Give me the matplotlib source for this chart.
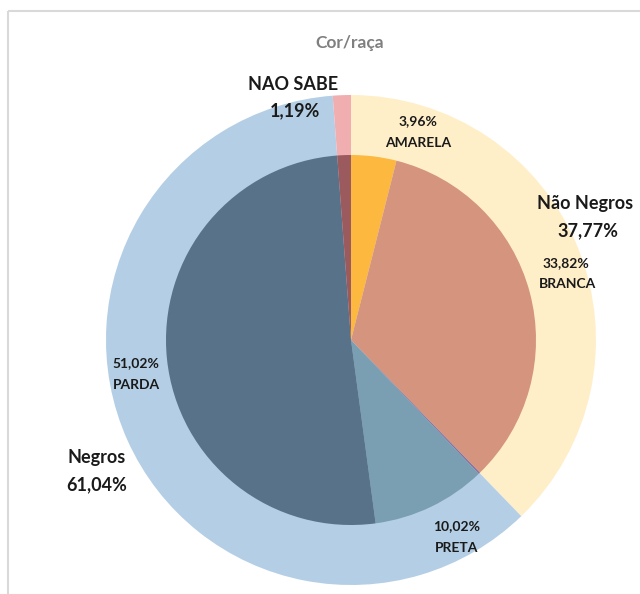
import matplotlib
matplotlib.use("Agg")
import matplotlib.pyplot as plt

# ---- data ----
outer_labels = ["Não Negros", "Negros", "NAO SABE"]
outer_values = [37.77, 61.04, 1.19]
inner_labels = ["AMARELA", "BRANCA", "INDÍGENA", "PRETA", "PARDA", "NAO SABE"]
inner_values = [3.96, 33.82, 0.15, 10.02, 51.02, 1.19]
title = "Cor/raça"

outer_colors = ["#FFEFC9", "#B4CFE5", "#F1AEB0"]
inner_colors = ["#FDB83F", "#D5947E", "#8A6FA0", "#7A9FB2", "#587389", "#9A5A5E"]

W, H = 640, 594
fig = plt.figure(figsize=(W / 100, H / 100), dpi=100)
ax = fig.add_axes([0, 0, 1, 1])

cx, cy = 351, H - 340

ax.pie(outer_values, colors=outer_colors, startangle=90, counterclock=False,
       radius=245, center=(cx, cy), frame=True,
       wedgeprops=dict(linewidth=0))
ax.pie(inner_values, colors=inner_colors, startangle=90, counterclock=False,
       radius=185, center=(cx, cy), frame=True,
       wedgeprops=dict(linewidth=0))
ax.set_xlim(0, W)
ax.set_ylim(0, H)
ax.set_aspect("equal")
ax.axis("off")

# chart frame
ax.plot([8, 8], [0, H - 11], color="#D9D9D9", lw=1.5, solid_capstyle="butt")
ax.plot([8, W], [H - 11, H - 11], color="#D9D9D9", lw=1.5, solid_capstyle="butt")

fam = ["Lato", "DejaVu Sans"]
dark = "#1A1A1A"


def txt(x, y, s, size, color=dark, weight="bold"):
    ax.text(x, H - y, s, ha="center", va="center", fontsize=size,
            fontweight=weight, color=color, family=fam)


def pct(v):
    return f"{v:.2f}%".replace(".", ",")


txt(350, 43, title, 12.5, color="#7F7F7F")

# outer ring labels
txt(293, 84, outer_labels[2], 13)
txt(295, 111, pct(outer_values[2]), 13)
txt(585, 204, outer_labels[0], 13)
txt(588, 231, pct(outer_values[0]), 13)
txt(97, 458, outer_labels[1], 13)
txt(97, 485, pct(outer_values[1]), 13)

# inner pie labels
txt(418, 121, pct(inner_values[0]), 10)
txt(418, 143, inner_labels[0], 10)
txt(566, 263, pct(inner_values[1]), 10)
txt(567, 284, inner_labels[1], 10)
txt(136, 363, pct(inner_values[4]), 10)
txt(136, 385, inner_labels[4], 10)
txt(457, 526, pct(inner_values[3]), 10)
txt(457, 548, inner_labels[3], 10)

fig.savefig("out.png", dpi=100)
